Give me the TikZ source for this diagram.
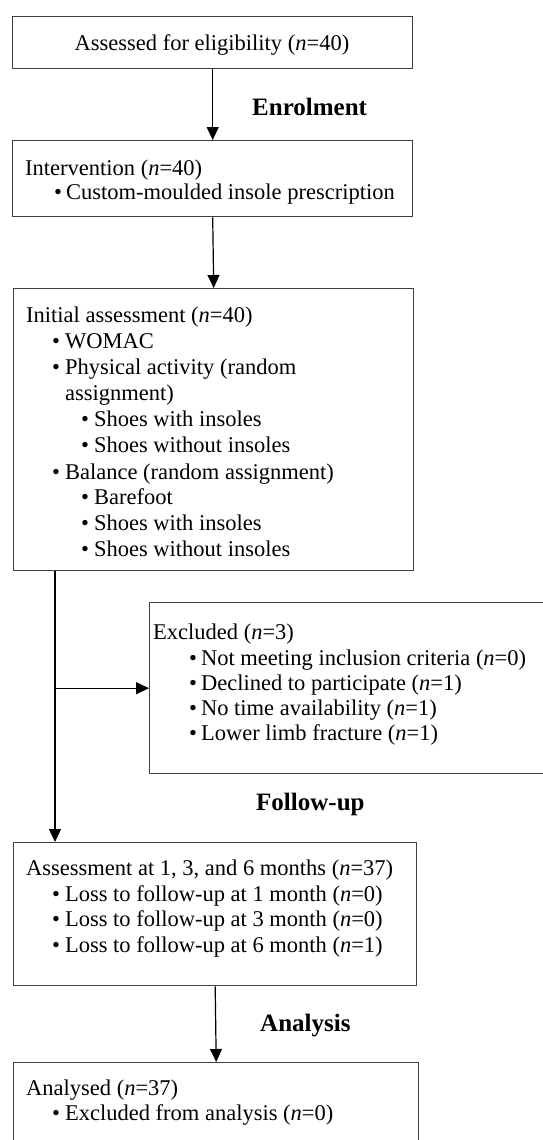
\documentclass[tikz,border=0pt]{standalone}
\usepackage{fontspec}
\setmainfont{Liberation Serif}
\usetikzlibrary{arrows.meta}
\begin{document}
\begin{tikzpicture}[x=1pt,y=-1pt,
  box/.style={draw=black!75,line width=1.4pt,rectangle,inner sep=0pt,anchor=north west},
  txt/.style={anchor=base west,inner sep=0pt,font=\fontsize{22.5}{26}\selectfont},
  ctxt/.style={anchor=base,inner sep=0pt,font=\fontsize{22.5}{26}\selectfont},
  head/.style={anchor=base west,inner sep=0pt,font=\fontsize{25}{30}\selectfont\bfseries},
  arr/.style={line width=1.2pt,-{Triangle[length=13pt,width=12pt]}},
  ln/.style={line width=1.2pt}]
\useasboundingbox (0,0) rectangle (543,1140);
\clip (0,0) rectangle (543,1140);
% boxes
\node[box,minimum width=400pt,minimum height=52pt] (b1) at (12,16) {};
\node[box,minimum width=400pt,minimum height=76pt] (b2) at (12,140) {};
\node[box,minimum width=400pt,minimum height=282pt] (b3) at (13,288) {};
\node[box,minimum width=420pt,minimum height=171pt] (b4) at (149,602) {};
\node[box,minimum width=403pt,minimum height=143pt] (b5) at (13,842) {};
\node[box,minimum width=405pt,minimum height=120pt] (b6) at (13,1062) {};
% texts
\node[ctxt] (t1) at (212,51) {Assessed for eligibility (\textit{n}=40)};
\node[head] (h1) at (252,115) {Enrolment};
\node[txt] (t2a) at (25,175) {Intervention (\textit{n}=40)};
\node[txt] (t2b) at (54,199) {•\hspace{4pt}Custom-moulded insole prescription};
\node[txt] (t3a) at (26,322) {Initial assessment (\textit{n}=40)};
\node[txt] (t3b) at (52,348) {•\hspace{5pt}WOMAC};
\node[txt] (t3c) at (52,374) {•\hspace{5pt}Physical activity (random};
\node[txt] (t3d) at (65,400) {assignment)};
\node[txt] (t3e) at (81,426) {•\hspace{5pt}Shoes with insoles};
\node[txt] (t3f) at (81,452) {•\hspace{5pt}Shoes without insoles};
\node[txt] (t3g) at (52,479) {•\hspace{5pt}Balance (random assignment)};
\node[txt] (t3h) at (81,504) {•\hspace{5pt}Barefoot};
\node[txt] (t3i) at (81,530) {•\hspace{5pt}Shoes with insoles};
\node[txt] (t3j) at (81,556) {•\hspace{5pt}Shoes without insoles};
\node[txt] (t4a) at (153,639) {Excluded (\textit{n}=3)};
\node[txt] (t4b) at (189,665) {•\hspace{4pt}Not meeting inclusion criteria (\textit{n}=0)};
\node[txt] (t4c) at (189,690) {•\hspace{4pt}Declined to participate (\textit{n}=1)};
\node[txt] (t4d) at (189,715) {•\hspace{4pt}No time availability (\textit{n}=1)};
\node[txt] (t4e) at (189,740) {•\hspace{4pt}Lower limb fracture (\textit{n}=1)};
\node[head] (h2) at (256,810) {Follow-up};
\node[txt] (t5a) at (26,875) {Assessment at 1, 3, and 6 months (\textit{n}=37)};
\node[txt] (t5b) at (52,901) {•\hspace{5pt}Loss to follow-up at 1 month (\textit{n}=0)};
\node[txt] (t5c) at (52,926) {•\hspace{5pt}Loss to follow-up at 3 month (\textit{n}=0)};
\node[txt] (t5d) at (52,952) {•\hspace{5pt}Loss to follow-up at 6 month (\textit{n}=1)};
\node[head] (h3) at (260,1031) {Analysis};
\node[txt] (t6a) at (26,1095) {Analysed (\textit{n}=37)};
\node[txt] (t6b) at (52,1120) {•\hspace{5pt}Excluded from analysis (\textit{n}=0)};
% connectors
\draw[arr] (b1.south) -- (b2.north);
\draw[arr] (b2.south) -- (b3.north);
\draw[arr] ([xshift=42pt]b3.south west) -- ([xshift=42pt]b5.north west);
\coordinate (br) at ([xshift=42pt]b3.south west |- b4.west);
\draw[arr] (br) -- (b4.west);
\draw[arr] (b5.south) -- (b6.north);
\end{tikzpicture}
\end{document}
